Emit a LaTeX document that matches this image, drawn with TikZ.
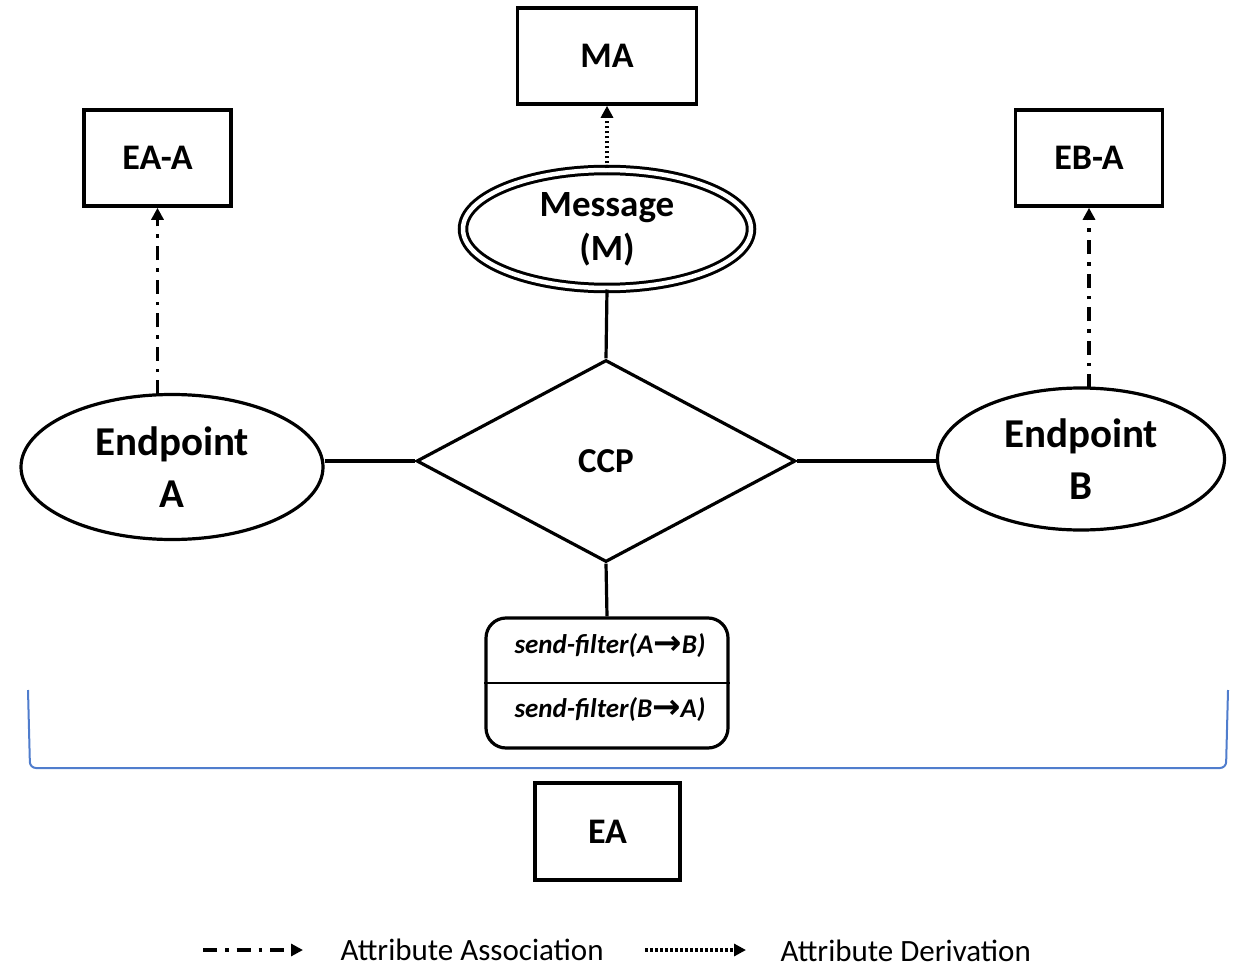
\documentclass[tikz,border=0pt]{standalone}
\usepackage{fontspec}
\setmainfont{Carlito}
\newfontfamily\arrowfont{DejaVu Sans}
\usetikzlibrary{shapes.geometric,arrows.meta}
\newcommand{\sfarrow}{{\arrowfont\bfseries\upshape\fontsize{34}{30}\selectfont\raisebox{-0.5pt}{→}}}
\begin{document}
\begin{tikzpicture}[x=1pt,y=-1pt,
  line width=3.2pt,
  attrbox/.style={draw, rectangle, line width=3.6pt, inner sep=0pt, minimum width=147pt, minimum height=96pt,
    font=\fontsize{36}{40}\selectfont\bfseries},
  entity/.style={draw, ellipse, inner sep=0pt, align=center,
    font=\fontsize{41}{52}\selectfont\bfseries},
  assoc/.style={line width=3.4pt, dash pattern=on 14pt off 8pt on 3.5pt off 8pt, -{Triangle[length=12pt,width=12pt]}},
  deriv/.style={line width=3.4pt, dash pattern=on 2.5pt off 2.5pt, -{Triangle[length=12pt,width=12pt]}},
  filtertext/.style={font=\fontsize{27}{30}\selectfont\bfseries\itshape},
  legendtext/.style={anchor=west, inner sep=0pt, font=\fontsize{31}{34}\selectfont}
]
\useasboundingbox (0,0) rectangle (1241,968);

% attribute boxes
\node[attrbox, minimum width=179pt] (ma) at (607,56) {MA};
\node[attrbox] (eaa) at (157.5,158) {EA-A};
\node[attrbox] (eba) at (1089,158) {EB-A};
\node[attrbox, minimum width=145pt, minimum height=97pt] (ea) at (607.5,831.5) {EA};

% message (weak entity, double outline)
\node[draw, ellipse, inner sep=0pt, minimum width=288pt, minimum height=118pt,
  double, double distance=4.5pt, line width=3pt, align=center,
  font=\fontsize{37}{44}\selectfont\bfseries] (msg) at (607,229) {Message\\(M)};

% relationship
\node[draw, diamond, inner sep=0pt, minimum width=379pt, minimum height=202pt,
  font=\fontsize{35}{38}\selectfont\bfseries] (ccp) at (606,461) {CCP};

% endpoints
\node[entity, minimum width=302pt, minimum height=145pt] (epa) at (172,467) {Endpoint\\A};
\node[entity, minimum width=287pt, minimum height=142pt] (epb) at (1081,459) {Endpoint\\B};

% send filters
\node[draw, rectangle, rounded corners=20pt, inner sep=0pt,
  minimum width=242pt, minimum height=130pt] (sf) at (607,683) {};
\draw[line width=2pt] (sf.west) -- (sf.east);
\node[filtertext] (sfab) at (610,646) {send-filter(A\sfarrow B)};
\node[filtertext] (sfba) at (610,710) {send-filter(B\sfarrow A)};

% connectors
\draw (msg.south) -- (ccp.north);
\draw (epa.east |- ccp.west) -- (ccp.west);
\draw (ccp.east) -- (epb.west |- ccp.east);
\draw (ccp.south) -- (sf.north);

\coordinate (epatop) at (157.5,394);
\coordinate (epbtop) at (1089,388);
\draw[assoc] (epatop) -- (eaa.south);
\draw[assoc] (epbtop) -- (eba.south);
\draw[deriv] (msg.north) -- (ma.south);

% grouping bracket
\draw[color={rgb,255:red,80;green,125;blue,205}, line width=2pt, rounded corners=6pt]
  (28,690) -- (30,768) -- (1226,768) -- (1228,690);

% legend
\coordinate (la1) at (203,950);
\coordinate (la2) at (303,950);
\coordinate (ld1) at (645,950);
\coordinate (ld2) at (746,950);
\draw[assoc] (la1) -- (la2);
\draw[deriv] (ld1) -- (ld2);
\node[legendtext] (lat) at (339,950) {Attribute Association};
\node[legendtext] (ldt) at (779,951) {Attribute Derivation};
\end{tikzpicture}
\end{document}
